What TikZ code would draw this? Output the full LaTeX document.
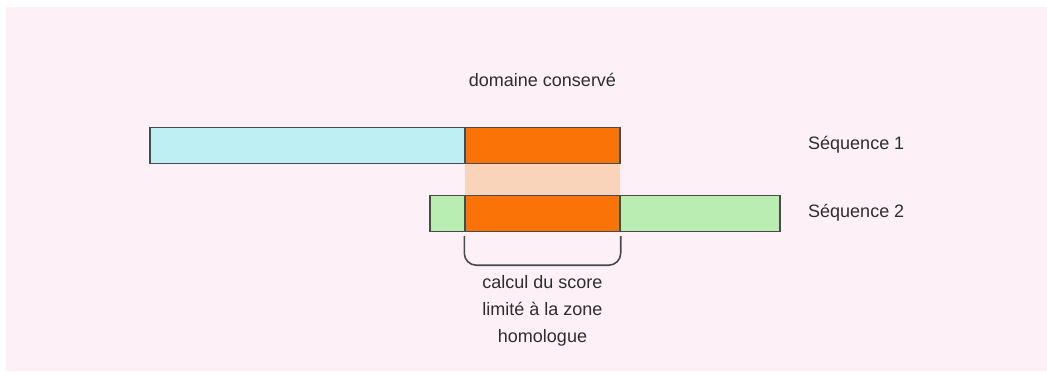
\documentclass[tikz,border=0pt]{standalone}
\usepackage{fontspec}
\setmainfont{Liberation Sans}
\definecolor{bgpink}{HTML}{FDF0F6}
\definecolor{cyanbar}{HTML}{BDEFF3}
\definecolor{greenbar}{HTML}{B9EDB2}
\definecolor{orangebar}{HTML}{F97306}
\definecolor{band}{HTML}{FAD4BA}
\definecolor{edge}{HTML}{4A4A4A}
\definecolor{txt}{HTML}{2E2E2E}
\begin{document}
\begin{tikzpicture}[x=1pt,y=-1pt,
  bar/.style={draw=edge, line width=1.4pt, inner sep=0pt, minimum height=36pt},
  lbl/.style={text=txt, font=\fontsize{18}{27}\selectfont, inner sep=0pt},
]
\useasboundingbox (0,0) rectangle (1047,374);
\fill[bgpink] (6,7) rectangle (1047,371);
% overlap band
\node[fill=band, inner sep=0pt, minimum width=155pt, minimum height=32pt] (band) at (542.5,179) {};
% sequence 1
\node[bar, fill=cyanbar, minimum width=470pt] (s1) at (385,145.5) {};
\node[bar, fill=orangebar, minimum width=155pt] (o1) at (542.5,145.5) {};
% sequence 2
\node[bar, fill=greenbar, minimum width=350pt] (s2) at (605,213.5) {};
\node[bar, fill=orangebar, minimum width=155pt] (o2) at (542.5,213.5) {};
% labels
\node[lbl] (dom) at (542.5,80) {domaine conservé};
\node[lbl, anchor=west] (l1) at (808,145) {Séquence 1};
\node[lbl, anchor=west] (l2) at (808,213) {Séquence 2};
% bracket
\coordinate (bl) at ([yshift=-4pt]o2.south west);
\coordinate (br) at ([yshift=-4pt]o2.south east);
\draw[edge, line width=1.6pt, rounded corners=12pt] (bl) -- ([yshift=-29pt]bl) -- ([yshift=-29pt]br) -- (br);
\node[lbl, align=center, anchor=north] (score) at (542.5,275) {calcul du score\\limité à la zone\\homologue};
\end{tikzpicture}
\end{document}
